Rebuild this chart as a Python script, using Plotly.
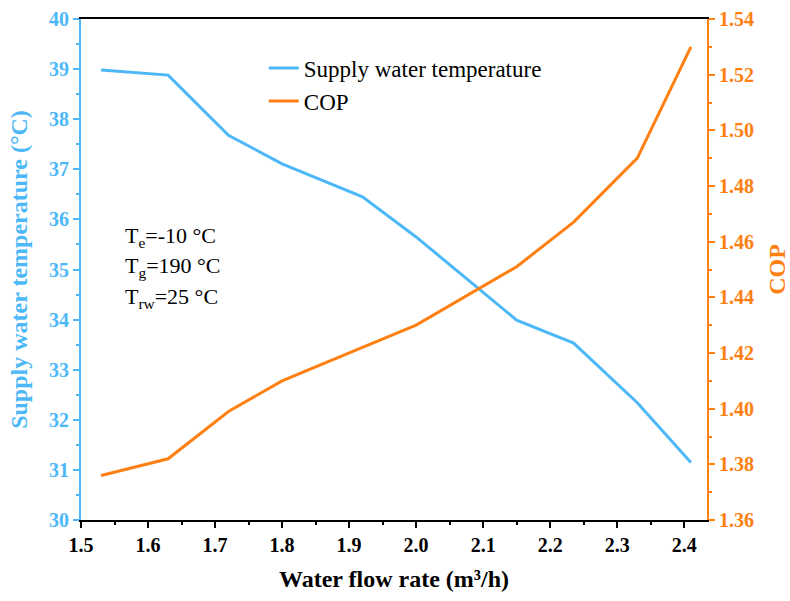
import plotly.graph_objects as go

flow = [1.53, 1.63, 1.72, 1.80, 1.92, 2.00, 2.15, 2.235, 2.33, 2.41]
supply_temp = [38.98, 38.88, 37.68, 37.11, 36.45, 35.65, 33.99, 33.53, 32.34, 31.15]
cop = [1.376, 1.382, 1.399, 1.410, 1.422, 1.430, 1.451, 1.467, 1.490, 1.530]

BLUE = "#4db8f8"
ORANGE = "#ff8012"
FONT = "Liberation Serif"

fig = go.Figure()
fig.add_trace(go.Scatter(x=flow, y=supply_temp, mode="lines", name="Supply water temperature",
                         line=dict(color=BLUE, width=3), yaxis="y"))
fig.add_trace(go.Scatter(x=flow, y=cop, mode="lines", name="COP",
                         line=dict(color=ORANGE, width=3), yaxis="y2"))

fig.update_layout(
    width=790, height=601,
    margin=dict(l=81, r=83, t=19, b=81),
    paper_bgcolor="white", plot_bgcolor="white",
    font=dict(family=FONT, color="black"),
    showlegend=True,
    legend=dict(x=0.292, y=0.945, xanchor="left", yanchor="top",
                bgcolor="rgba(0,0,0,0)", font=dict(size=23, family=FONT),
                tracegroupgap=0, itemwidth=30),
    xaxis=dict(range=[1.5, 2.434], tickmode="linear", tick0=1.5, dtick=0.1,
               tickformat=".1f", showgrid=False, zeroline=False,
               showline=True, linecolor="black", linewidth=2, mirror=True,
               ticks="outside", ticklen=6, tickwidth=2, tickcolor="black",
               minor=dict(ticks="outside", ticklen=3, tickwidth=1.5, tickcolor="black", dtick=0.05),
               tickfont=dict(size=20, family=FONT, weight="bold", color="black"),
               automargin=False,
               title=dict(text="Water flow rate (m³/h)",
                          font=dict(size=24, family=FONT, weight="bold", color="black"))),
    yaxis=dict(range=[30, 40], tickmode="linear", tick0=30, dtick=1,
               showgrid=False, zeroline=False,
               showline=True, linecolor=BLUE, linewidth=2,
               ticks="outside", ticklen=6, tickwidth=2, tickcolor=BLUE,
               minor=dict(ticks="outside", ticklen=3, tickwidth=1.5, tickcolor=BLUE, dtick=0.5),
               tickfont=dict(size=20, family=FONT, weight="bold", color=BLUE),
               automargin=False,
               title=dict(text="Supply water temperature (°C)",
                          font=dict(size=24, family=FONT, weight="bold", color=BLUE))),
    yaxis2=dict(range=[1.36, 1.54], tickmode="linear", tick0=1.36, dtick=0.02,
                tickformat=".2f", overlaying="y", side="right",
                showgrid=False, zeroline=False,
                showline=True, linecolor=ORANGE, linewidth=2,
                ticks="outside", ticklen=6, tickwidth=2, tickcolor=ORANGE,
                minor=dict(ticks="outside", ticklen=3, tickwidth=1.5, tickcolor=ORANGE, dtick=0.01),
                tickfont=dict(size=20, family=FONT, weight="bold", color=ORANGE),
                automargin=False,
                title=dict(text="COP",
                           font=dict(size=24, family=FONT, weight="bold", color=ORANGE))),
)

labels = ["T<sub>e</sub>=-10 °C", "T<sub>g</sub>=190 °C", "T<sub>rw</sub>=25 °C"]
ys = [35.65, 35.05, 34.43]
for t, yv in zip(labels, ys):
    fig.add_annotation(x=1.562, y=yv, xref="x", yref="y", text=t, showarrow=False,
                       xanchor="left", yanchor="middle",
                       font=dict(size=22, family=FONT, color="black"))

fig.write_html("out.html")
